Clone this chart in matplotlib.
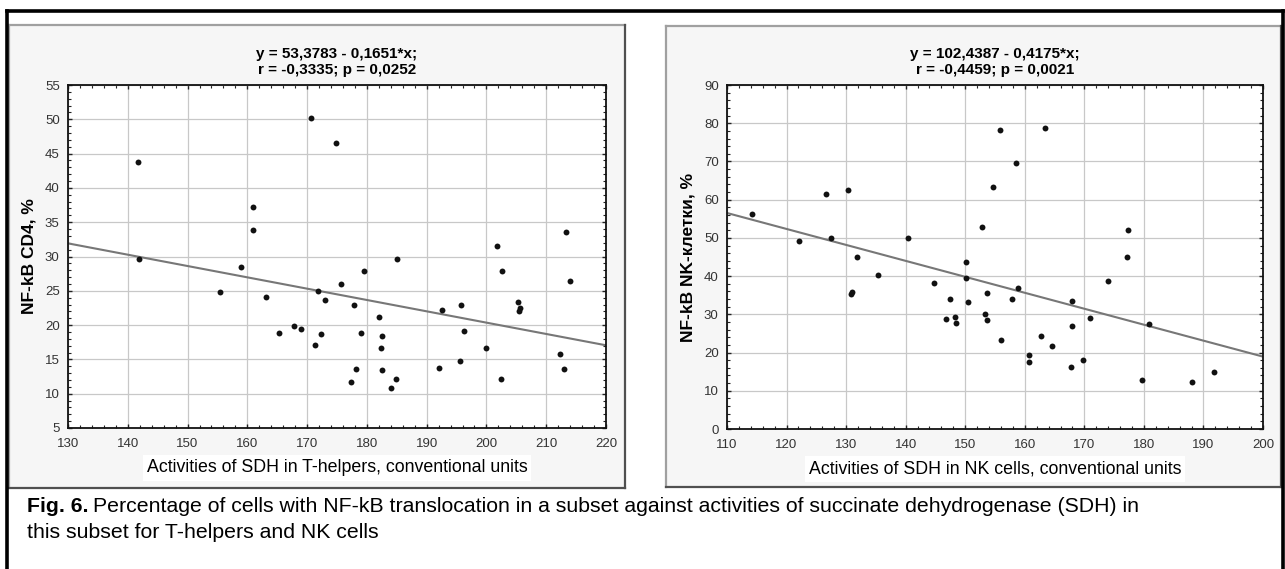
import numpy as np
import matplotlib
matplotlib.use('Agg')
from matplotlib import pyplot as plt
from matplotlib.patches import Rectangle
from matplotlib.lines import Line2D
from matplotlib.ticker import MultipleLocator

plt.rcParams['font.family'] = ['Liberation Sans', 'DejaVu Sans']

# T-helpers
th_x = [141.8, 141.7, 155.5, 158.9, 160.9, 160.9, 163.2, 165.3, 167.8, 169.0,
        170.6, 171.4, 171.9, 172.3, 173.0, 174.8, 175.6, 177.3, 177.9, 178.2,
        179.0, 179.5, 182.1, 182.3, 182.6, 182.6, 184.0, 184.8, 185.1, 192.1,
        192.6, 195.5, 195.7, 196.2, 199.9, 201.8, 202.5, 202.6, 205.3, 205.5,
        205.6, 212.3, 212.9, 213.3, 214.0]
th_y = [29.7, 43.8, 24.8, 28.5, 37.2, 33.9, 24.1, 18.9, 19.8, 19.4,
        50.2, 17.1, 25.0, 18.7, 23.7, 46.5, 26.0, 11.7, 22.9, 13.6,
        18.9, 27.9, 21.2, 16.6, 18.4, 13.5, 10.8, 12.1, 29.7, 13.8,
        22.2, 14.7, 23.0, 19.2, 16.7, 31.6, 12.1, 27.9, 23.4, 22.1,
        22.5, 15.8, 13.6, 33.6, 26.4]
th_fit = (53.3783, -0.1651)

# NK cells
nk_x = [114.2, 122.1, 126.6, 127.5, 130.4, 140.4, 152.9, 154.6, 155.8, 158.6,
        163.4, 177.3, 131.8, 131.0, 130.8, 135.3, 144.7, 146.8, 147.5, 148.2,
        148.4, 150.2, 150.2, 150.4, 153.4, 153.6, 153.6, 156.0, 157.8, 158.8,
        160.7, 160.7, 162.8, 164.6, 167.7, 167.9, 167.9, 169.8, 170.9, 174.0,
        177.1, 179.7, 180.9, 188.1, 191.8]
nk_y = [56.2, 49.2, 61.4, 49.9, 62.5, 49.9, 52.8, 63.4, 78.1, 69.5,
        78.7, 52.0, 44.9, 35.8, 35.4, 40.3, 38.3, 28.7, 33.9, 29.4,
        27.7, 43.8, 39.6, 33.2, 30.2, 35.6, 28.6, 23.2, 33.9, 36.9,
        19.4, 17.6, 24.3, 21.8, 16.2, 33.5, 26.9, 18.0, 29.0, 38.7,
        44.9, 12.9, 27.4, 12.2, 15.0]
nk_fit = (102.4387, -0.4175)

W, H = 1285, 569
fig = plt.figure(figsize=(W / 100, H / 100), dpi=100)


def fx(px):
    return px / W


def fy(py):
    return 1 - py / H


def panel(x0, y0, x1, y1):
    """светло-серая рамка панели в стиле Statistica"""
    fig.patches.append(Rectangle((fx(x0), fy(y1)), fx(x1 - x0), (y1 - y0) / H,
                                 transform=fig.transFigure, facecolor='#f6f6f6',
                                 edgecolor='none', zorder=-2))
    for xs, ys, c in [([x0, x1], [y0, y0], '#a0a0a0'), ([x0, x0], [y0, y1], '#a0a0a0'),
                      ([x1, x1], [y0, y1], '#505050'), ([x0, x1], [y1, y1], '#505050')]:
        fig.lines.append(Line2D([fx(v) for v in xs], [fy(v) for v in ys],
                                transform=fig.transFigure, color=c, lw=1.6, zorder=-1))


def scatter_panel(rect, x, y, fit, xlim, ylim, xstep, ystep, title, xlabel, ylabel):
    l, t, r, b = rect
    ax = fig.add_axes([fx(l), fy(b), fx(r - l), (b - t) / H])
    ax.set_zorder(2)
    ax.set_facecolor('white')
    ax.scatter(x, y, s=18, color='#111111', zorder=3, linewidths=0)
    xx = np.array(xlim, dtype=float)
    ax.plot(xx, fit[0] + fit[1] * xx, color='#777777', lw=1.5, zorder=2)
    ax.set_xlim(xlim)
    ax.set_ylim(ylim)
    ax.xaxis.set_major_locator(MultipleLocator(xstep))
    ax.yaxis.set_major_locator(MultipleLocator(ystep))
    ax.xaxis.set_minor_locator(MultipleLocator(xstep / 5))
    ax.yaxis.set_minor_locator(MultipleLocator(ystep / 5))
    ax.grid(True, which='major', color='#c8c8c8', lw=0.9)
    ax.set_axisbelow(True)
    ax.tick_params(which='both', direction='in', top=True, right=True,
                   colors='#222222', labelcolor='#333333', labelsize=9.5)
    ax.tick_params(which='major', length=3, width=1)
    ax.tick_params(which='minor', length=2, width=0.8)
    ax.tick_params(axis='x', pad=7)
    ax.tick_params(axis='y', pad=6)
    for s in ax.spines.values():
        s.set_linewidth(1.3)
        s.set_color('#111111')
    ax.set_title(title, fontsize=11, fontweight='bold', pad=8, linespacing=1.15)
    ax.set_ylabel(ylabel, fontsize=12.5, fontweight='bold', labelpad=6)
    ax.set_xlabel(xlabel, fontsize=12.8, labelpad=7,
                  bbox=dict(facecolor='white', edgecolor='none', pad=3))
    return ax


# рамка всего рисунка
for xs, ys in [([7, 1283], [11, 11]), ([7, 7], [11, 569]), ([1283, 1283], [11, 569])]:
    fig.lines.append(Line2D([fx(v) for v in xs], [fy(v) for v in ys],
                            transform=fig.transFigure, color='black', lw=2.6, zorder=1))

panel(9, 25, 625, 488)
panel(666, 26, 1281, 487)

scatter_panel((68, 85, 606, 428), th_x, th_y, th_fit, (130, 220), (5, 55), 10, 5,
              'y = 53,3783 - 0,1651*x;\nr = -0,3335; p = 0,0252',
              'Activities of SDH in T-helpers, conventional units', 'NF-kB CD4, %')
scatter_panel((727, 85, 1263, 429), nk_x, nk_y, nk_fit, (110, 200), (0, 90), 10, 10,
              'y = 102,4387 - 0,4175*x;\nr = -0,4459; p = 0,0021',
              'Activities of SDH in NK cells, conventional units', 'NF-kB NK-клетки, %')

# подпись
fs = 15.3
t1 = fig.text(fx(27), fy(507), 'Fig. 6.', fontsize=fs, fontweight='bold', va='center')
fig.canvas.draw()
bb = t1.get_window_extent(renderer=fig.canvas.get_renderer())
fig.text(bb.x1 / W + fx(4), fy(507),
         'Percentage of cells with NF-kB translocation in a subset against activities '
         'of succinate dehydrogenase (SDH) in', fontsize=fs, va='center')
fig.text(fx(27), fy(532), 'this subset for T-helpers and NK cells', fontsize=fs, va='center')

fig.savefig('out.png', dpi=100)
